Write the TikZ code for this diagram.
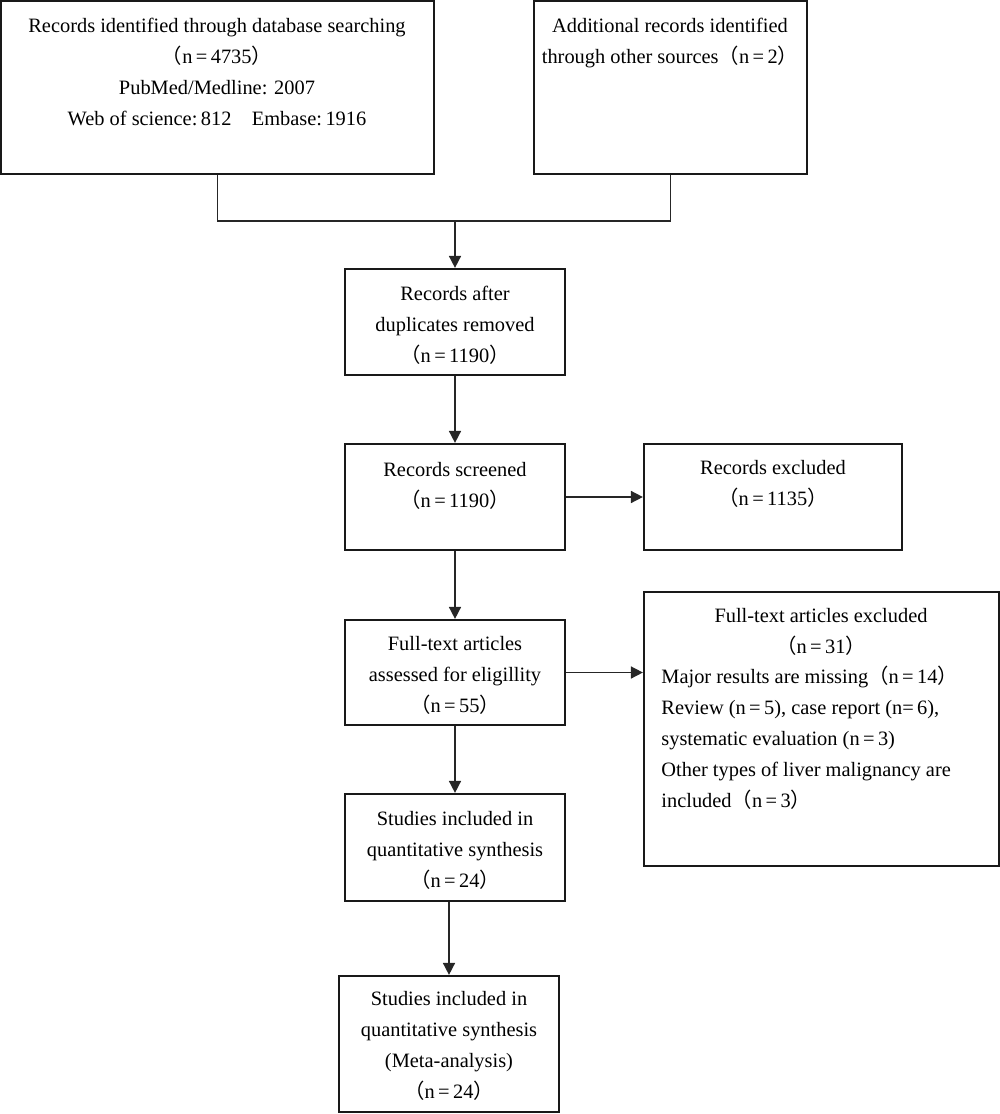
\documentclass[tikz,border=0pt]{standalone}
\usepackage{fontspec}
\setmainfont{Liberation Serif}
\newfontfamily\cjk{Noto Sans CJK SC}
\usetikzlibrary{fit,arrows.meta}
\newcommand{\zkl}{{\cjk （}}
\newcommand{\zkr}{{\cjk ）}}
\begin{document}
\begin{tikzpicture}[x=0.5pt,y=-0.5pt,
  box/.style={draw=black!90, line width=1.1pt, inner sep=0pt, fill=none},
  txt/.style={inner sep=0pt, font=\fontsize{10.2}{15.5}\selectfont, align=center, anchor=base},
  txtl/.style={inner sep=0pt, font=\fontsize{10.2}{15.5}\selectfont, align=left, anchor=base west},
  conn/.style={draw=black!85, line width=0.8pt},
  arr/.style={conn, -{Triangle[length=6pt,width=6pt]}}]
\useasboundingbox (0,0) rectangle (1000,1114);
% boxes
\node[box, fit={(1,1) (434,174)}] (A) {};
\node[box, fit={(534,1) (807,174)}] (B) {};
\node[box, fit={(345,269) (565,375)}] (C) {};
\node[box, fit={(345,444) (565,550)}] (D) {};
\node[box, fit={(644,444) (902,550)}] (E) {};
\node[box, fit={(345,620) (565,725)}] (F) {};
\node[box, fit={(644,592) (999,866)}] (G) {};
\node[box, fit={(345,794) (565,901)}] (H) {};
\node[box, fit={(339,976) (559,1112)}] (I) {};
% texts (anchor = baseline of the last line)
\node[txt] (tA) at (217,125) {Records identified through database searching\\ \zkl n\,=\,4735\zkr\\ PubMed/Medline: 2007\\ Web of science:\,812\quad Embase:\,1916};
\node[txt] (tB) at (670,63) {Additional records identified\\ through other sources\zkl n\,=\,2\zkr};
\node[txt] (tC) at (455,362) {Records after\\ duplicates removed\\ \zkl n\,=\,1190\zkr};
\node[txt] (tD) at (455,507) {Records screened\\ \zkl n\,=\,1190\zkr};
\node[txt] (tE) at (773,505) {Records excluded\\ \zkl n\,=\,1135\zkr};
\node[txt] (tF) at (455,712) {Full-text articles\\ assessed for eligillity\\ \zkl n\,=\,55\zkr};
\node[txt] (tG1) at (821,653) {Full-text articles excluded\\ \zkl n\,=\,31\zkr};
\node[txtl] (tG2) at (661,807) {Major results are missing\zkl n\,=\,14\zkr\\ Review (n\,=\,5), case report (n=\,6),\\ systematic evaluation (n\,=\,3)\\ Other types of liver malignancy are\\ included\zkl n\,=\,3\zkr};
\node[txt] (tH) at (455,887) {Studies included in\\ quantitative synthesis\\ \zkl n\,=\,24\zkr};
\node[txt] (tI) at (449,1098) {Studies included in\\ quantitative synthesis\\ (Meta-analysis)\\ \zkl n\,=\,24\zkr};
% connectors
\coordinate (J) at (455,221);
\draw[conn] (A.south) |- (J) -| (B.south);
\draw[arr] (J) -- (C.north);
\draw[arr] (C.south) -- (D.north);
\draw[arr] (D.east) -- (E.west);
\draw[arr] (D.south) -- (F.north);
\draw[arr] (F.east) -- (G.west |- F.east);
\draw[arr] (F.south) -- (H.north);
\draw[arr] (I.north |- H.south) -- (I.north);
\end{tikzpicture}
\end{document}
